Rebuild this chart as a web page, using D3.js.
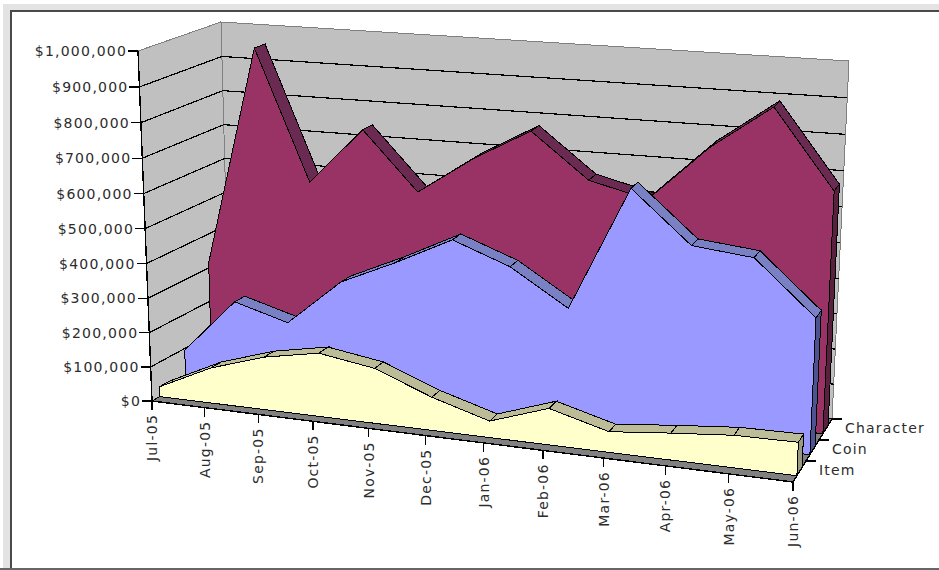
<!DOCTYPE html>
<html>
<head>
<meta charset="utf-8">
<style>
  html, body { margin: 0; padding: 0; background: #fff; }
  text { font-family: "DejaVu Sans", sans-serif; font-size: 14px; fill: #2c2c2c; letter-spacing: 1.2px; }
</style>
<script src="https://cdn.jsdelivr.net/npm/d3@7"></script>
</head>
<body>
<svg id="chart" width="939" height="570" style="display:block"></svg>
<script>
// Monthly revenue by product line, drawn as a 3-D area chart.
const months = ["Jul-05","Aug-05","Sep-05","Oct-05","Nov-05","Dec-05","Jan-06","Feb-06","Mar-06","Apr-06","May-06","Jun-06"];
const seriesNames = ["Item","Coin","Character"];
const itemValues = [29000,103000,153000,183000,158000,95000,47000,103000,58000,75000,90000,92000];
const coinValues = [95000,255000,210000,345000,417000,497000,437000,336000,686000,544000,527000,379000];
const characterValues = [315000,955000,580000,744000,578000,687000,777000,652000,612000,770000,893000,677000];
const valueTicks = [0,100000,200000,300000,400000,500000,600000,700000,800000,900000,1000000];

const seriesColors = {
  Item: { front: "#ffffcc", top: "#bcbc99", cap: "#9a9a80" },
  Coin: { front: "#9999ff", top: "#7a80c4", cap: "#4d5390" },
  Character: { front: "#993366", top: "#6b2a52", cap: "#5a2040" }
};

// Screen positions of the eight corners of the plot box.
const box = {
  frontBottomLeft: [152, 401], frontTopLeft: [138, 51],
  backBottomLeft: [230, 357], backTopLeft: [221, 22],
  frontBottomRight: [793, 482], frontTopRight: [809, 107],
  backBottomRight: [832, 419], backTopRight: [849, 61]
};

const xScale = d3.scalePoint().domain(d3.range(months.length)).range([0, 1]);
const yScale = d3.scaleLinear().domain([0, 1000000]).range([0, 1]);
const zScale = d3.scaleLinear().domain([0, 1]).range([0, 1]);

// Foreshortening along an edge of the box.
const foreshorten = k => t => t * k / (1 - t + t * k);
const warpX = foreshorten(0.894);
const warpY = foreshorten(0.97);

const mix = (a, b, t) => [a[0] + (b[0] - a[0]) * t, a[1] + (b[1] - a[1]) * t];

function projectRaw(u, z, w) {
  const bottomFront = mix(box.frontBottomLeft, box.frontBottomRight, u);
  const topFront = mix(box.frontTopLeft, box.frontTopRight, u);
  const bottomBack = mix(box.backBottomLeft, box.backBottomRight, u);
  const topBack = mix(box.backTopLeft, box.backTopRight, u);
  return mix(mix(bottomFront, topFront, w), mix(bottomBack, topBack, w), z);
}
const project = (i, z, v) => projectRaw(warpX(xScale(i)), zScale(z), warpY(yScale(v)));

const svg = d3.select("#chart");
const closed = d3.line().curve(d3.curveLinearClosed);
const open = d3.line();

// Worksheet frame around the chart: a pale band, then a dark rule.
svg.append("rect").attr("x", 3).attr("y", 4).attr("width", 936).attr("height", 564).attr("fill", "#e3e3e3");
svg.append("rect").attr("x", 10).attr("y", 10).attr("width", 929).attr("height", 558).attr("fill", "#fff");
const frame = svg.append("g").attr("fill", "#4a4a4a");
frame.append("rect").attr("x", 10).attr("y", 10).attr("width", 929).attr("height", 2);
frame.append("rect").attr("x", 10).attr("y", 10).attr("width", 2).attr("height", 558);
frame.append("rect").attr("x", 0).attr("y", 568).attr("width", 939).attr("height", 2).attr("fill", "#666");

const last = months.length - 1;
const plot = svg.append("g").attr("shape-rendering", "crispEdges");

// Walls and floor.
const maxV = valueTicks[valueTicks.length - 1];
const wallStyle = sel => sel.attr("fill", "#c0c0c0").attr("stroke", "#808080").attr("stroke-width", 1);
plot.append("path").attr("d", closed([project(0,0,0), project(0,0,maxV), project(0,1,maxV), project(0,1,0)])).call(wallStyle);
plot.append("path").attr("d", closed([project(0,1,0), project(0,1,maxV), project(last,1,maxV), project(last,1,0)])).call(wallStyle);
plot.append("path").attr("d", closed([project(0,0,0), project(0,1,0), project(last,1,0), project(last,0,0)]))
  .attr("fill", "#808080").attr("stroke", "#000").attr("stroke-width", 1);

// Gridlines run along the side wall and then across the back wall.
plot.selectAll("path.grid").data(valueTicks.slice(1, -1)).join("path").attr("class", "grid")
  .attr("d", v => open([project(0,0,v), project(0,1,v), project(last,1,v)]))
  .attr("fill", "none").attr("stroke", "#000").attr("stroke-width", 1.2);

// Areas, drawn back to front. Each band takes 40% of its depth slot.
const bandWidth = 1 / seriesNames.length;
const seriesData = [
  { name: "Character", values: characterValues, slot: 2 },
  { name: "Coin", values: coinValues, slot: 1 },
  { name: "Item", values: itemValues, slot: 0 }
];
seriesData.forEach(s => {
  const z0 = (s.slot + 0.3) * bandWidth;
  const z1 = (s.slot + 0.7) * bandWidth;
  const col = seriesColors[s.name];
  const g = plot.append("g").attr("stroke", "#000").attr("stroke-width", 1);
  // End cap on the right.
  g.append("path").attr("d", closed([project(last,z0,0), project(last,z0,s.values[last]), project(last,z1,s.values[last]), project(last,z1,0)]))
    .attr("fill", col.cap);
  // Top surface, one facet per month interval.
  g.selectAll("path.facet").data(d3.pairs(s.values.map((v, i) => ({ v, i })))).join("path").attr("class", "facet")
    .attr("d", ([a, b]) => closed([project(a.i,z0,a.v), project(b.i,z0,b.v), project(b.i,z1,b.v), project(a.i,z1,a.v)]))
    .attr("fill", col.top);
  // Front face.
  const outline = [project(0,z0,0)].concat(s.values.map((v, i) => project(i,z0,v)), [project(last,z0,0)]);
  g.append("path").attr("d", closed(outline)).attr("fill", col.front);
});

// Value axis.
const axes = svg.append("g").attr("shape-rendering", "crispEdges").attr("stroke", "#000").attr("stroke-width", 1.4);
axes.append("path").attr("fill", "none").attr("d", open([project(0,0,0), project(0,0,maxV)]));
axes.selectAll("path.vt").data(valueTicks).join("path").attr("class", "vt")
  .attr("d", v => { const p = project(0,0,v); return open([[p[0] - 10, p[1]], p]); });
svg.append("g").selectAll("text").data(valueTicks).join("text")
  .attr("x", v => project(0,0,v)[0] - 11)
  .attr("y", v => project(0,0,v)[1] + 5)
  .attr("text-anchor", "end")
  .text(v => "$" + d3.format(",")(v));

// Month axis along the front edge of the floor.
axes.append("path").attr("fill", "none").attr("d", open([project(0,0,0), project(last,0,0)]));
axes.selectAll("path.mt").data(months.map((m, i) => i)).join("path").attr("class", "mt")
  .attr("d", i => { const p = project(i,0,0); return open([p, [p[0], p[1] + 9]]); });
svg.append("g").selectAll("text").data(months.map((m, i) => ({ m, i }))).join("text")
  .attr("transform", d => { const p = project(d.i,0,0); return `translate(${p[0] + 5},${p[1] + 13}) rotate(-90)`; })
  .attr("text-anchor", "end")
  .text(d => d.m);

// Depth axis with one label per series.
axes.append("path").attr("fill", "none").attr("d", open([project(last,0,0), project(last,1,0)]));
seriesNames.forEach((name, k) => {
  const p = project(last, (k + 1) * bandWidth, 0);
  axes.append("path").attr("d", open([p, [p[0] + 10, p[1]]]));
  svg.append("text").attr("x", p[0] + 13).attr("y", p[1] + 14).text(name);
});
</script>
</body>
</html>
